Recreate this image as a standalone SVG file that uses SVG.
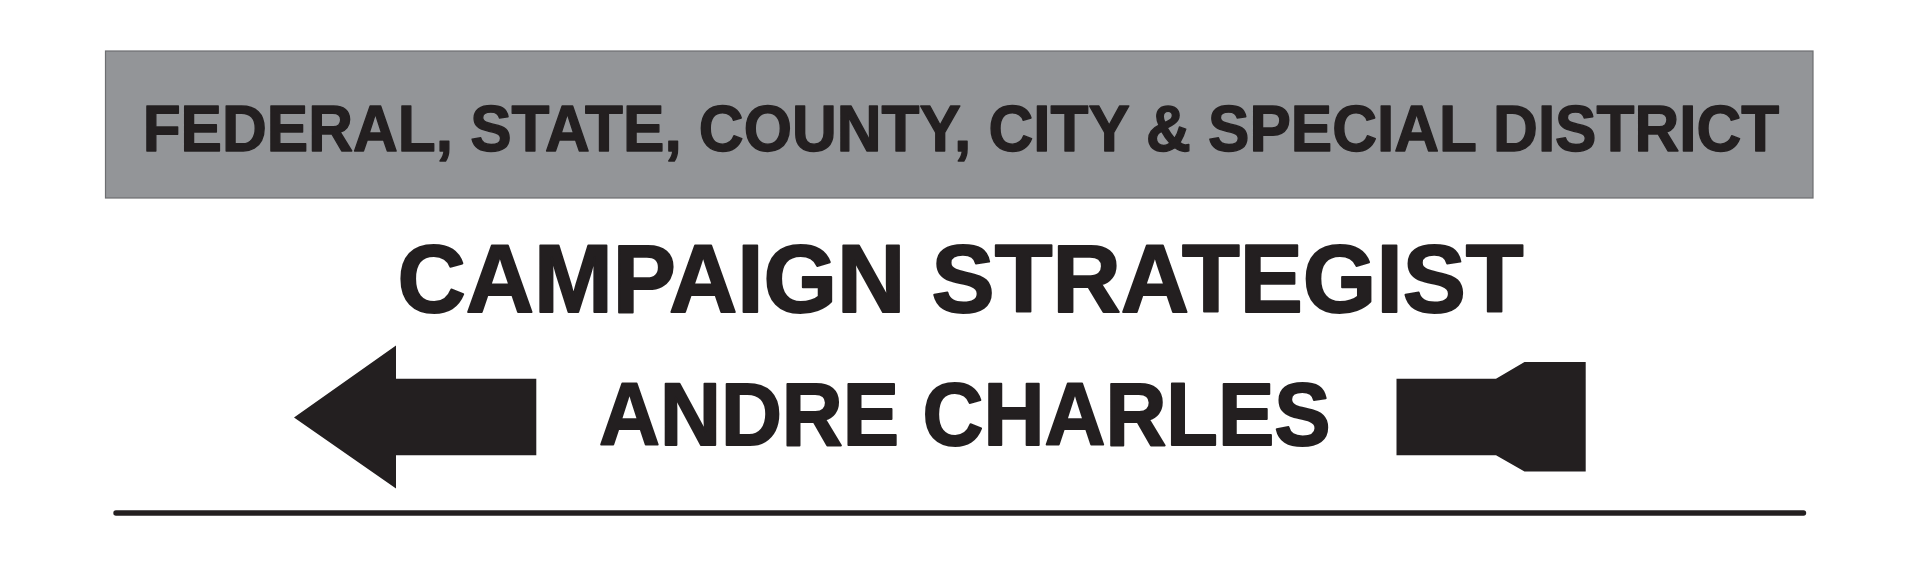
<svg xmlns="http://www.w3.org/2000/svg" width="1920" height="564" viewBox="0 0 1920 564">
<style>
.t{font-family:"Liberation Sans",Arial,Helvetica,sans-serif;font-weight:bold;fill:#231f20;stroke:#231f20;stroke-linejoin:round}
.shape{fill:#231f20}
</style>
<rect width="1920" height="564" fill="#ffffff"/>
<g id="header">
<rect x="105.5" y="51" width="1707.5" height="147" fill="#939598" stroke="#6d6e71" stroke-width="1.2"/>
<text class="t" x="142.7" y="151.2" font-size="64.5" stroke-width="1.4" textLength="1636.5" lengthAdjust="spacingAndGlyphs">FEDERAL, STATE, COUNTY, CITY &amp; SPECIAL DISTRICT</text>
</g>
<g id="title">
<text class="t" x="397.5" y="312.2" font-size="95.5" stroke-width="2" textLength="1126" lengthAdjust="spacingAndGlyphs">CAMPAIGN STRATEGIST</text>
</g>
<g id="name">
<text class="t" x="599" y="445.2" font-size="89" stroke-width="2" textLength="731.5" lengthAdjust="spacingAndGlyphs">ANDRE CHARLES</text>
</g>
<g id="connectors">
<polygon id="left-arrow" class="shape" points="294,417.5 396,345.5 396,378.8 536.3,378.8 536.3,455.3 396,455.3 396,488.6"/>
<polygon id="right-tail" class="shape" points="1396.5,378.8 1496,378.8 1524.5,362 1585.7,362 1585.7,471.5 1524.5,471.5 1496,455.3 1396.5,455.3"/>
<line id="rule" x1="116" y1="513" x2="1803.5" y2="513" stroke="#231f20" stroke-width="5.4" stroke-linecap="round"/>
</g>
</svg>
